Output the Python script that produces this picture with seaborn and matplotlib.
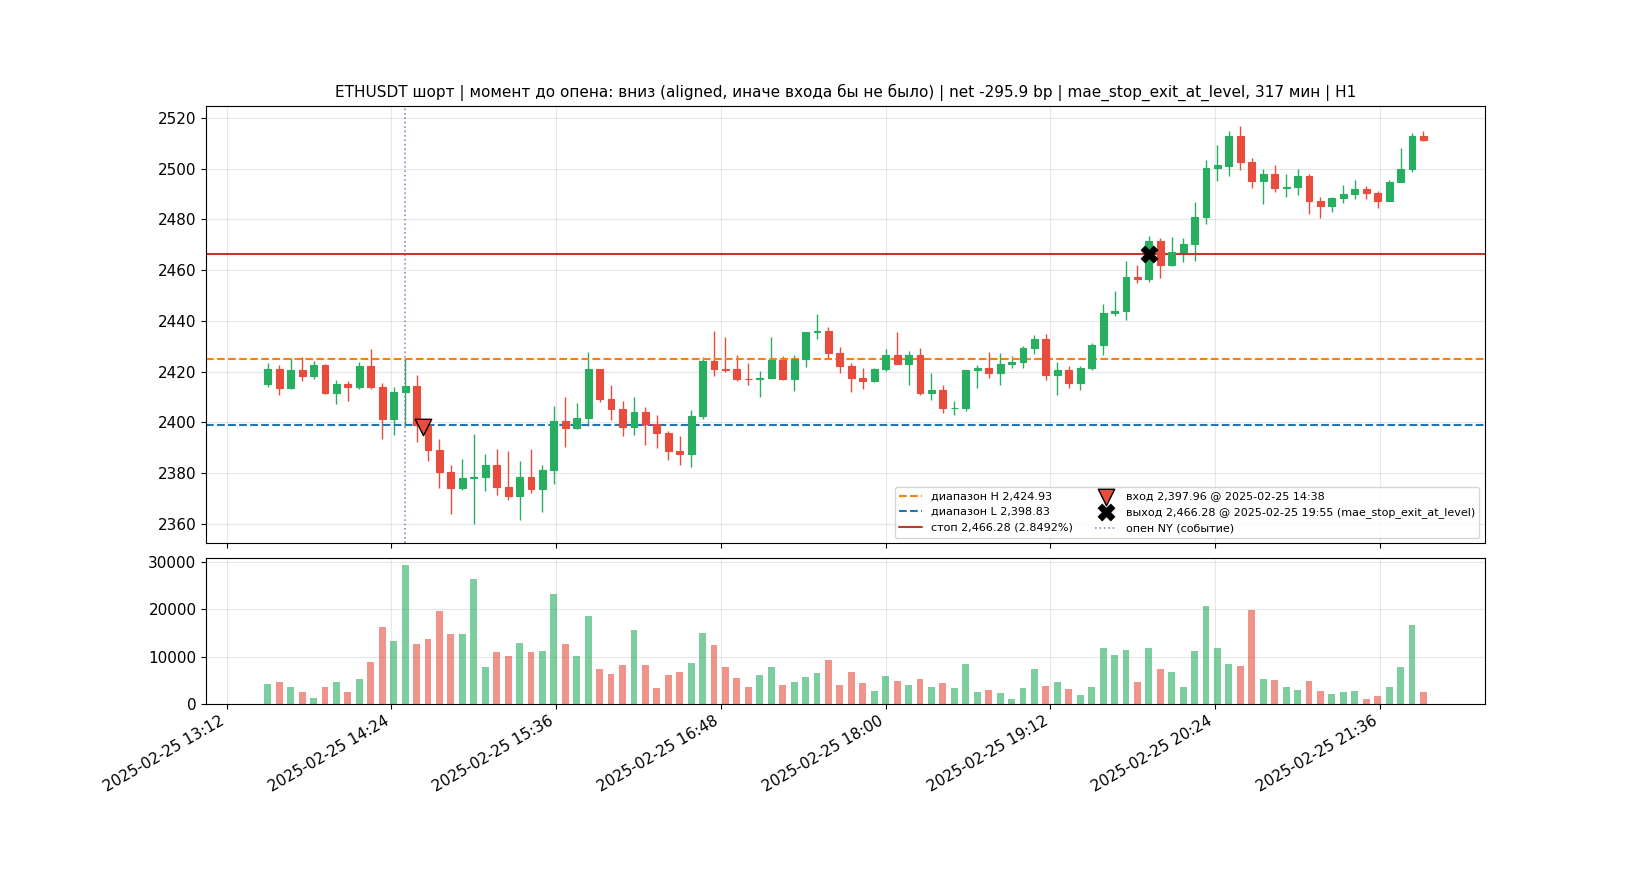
import numpy as np
import pandas as pd
import matplotlib
matplotlib.use("Agg")
import matplotlib.pyplot as plt
import matplotlib.dates as mdates
import seaborn as sns

# ----- DATA ---------------|
SYMBOL = "ETHUSDT"
TITLE = ("ETHUSDT шорт | момент до опена: вниз (aligned, иначе входа бы не было) | "
         "net -295.9 bp | mae_stop_exit_at_level, 317 мин | H1")

# 5m candles, 13:30 .. 21:55
times = pd.date_range("2025-02-25 13:30", periods=102, freq="5min")

opens = [2415.14, 2421.05, 2413.43, 2420.66, 2418.16, 2422.63, 2411.46, 2415.14, 2413.83, 2422.23,
         2413.96, 2401.34, 2411.99, 2414.35, 2399.11, 2389.12, 2380.45, 2374.14, 2378.20, 2378.48,
         2383.21, 2374.54, 2370.99, 2378.48, 2373.75, 2381.24, 2400.55, 2397.79, 2401.73, 2421.05,
         2409.22, 2405.28, 2398.19, 2404.10, 2399.37, 2395.82, 2388.73, 2387.54, 2402.52, 2424.20,
         2421.05, 2421.05, 2417.11, 2417.11, 2417.37, 2424.73, 2417.11, 2424.99, 2435.63, 2436.03,
         2427.35, 2422.23, 2417.50, 2416.32, 2421.05, 2426.57, 2423.02, 2426.71, 2411.59, 2412.78,
         2405.68, 2405.68, 2420.66, 2421.45, 2419.35, 2423.03, 2423.81, 2429.33, 2432.88, 2418.69,
         2420.66, 2415.54, 2421.44, 2430.64, 2443.12, 2443.78, 2457.31, 2456.52, 2471.37, 2462.04,
         2467.17, 2470.32, 2480.96, 2500.28, 2500.93, 2513.02, 2502.64, 2495.15, 2497.91, 2492.52,
         2492.79, 2497.12, 2487.27, 2485.17, 2488.45, 2490.03, 2492.00, 2490.42, 2487.27, 2494.76,
         2499.88, 2512.89]
highs = [2423.55, 2422.63, 2425.39, 2425.78, 2424.07, 2422.90, 2416.85, 2416.45, 2423.94, 2429.07,
         2415.53, 2413.96, 2425.39, 2418.82, 2399.60, 2393.59, 2383.08, 2385.71, 2395.56, 2387.67,
         2389.65, 2388.86, 2384.92, 2389.65, 2383.34, 2406.59, 2410.14, 2407.78, 2427.88, 2421.10,
         2414.87, 2408.57, 2410.14, 2405.94, 2403.05, 2396.48, 2394.77, 2405.02, 2425.78, 2436.16,
         2433.66, 2426.57, 2423.54, 2420.39, 2433.79, 2426.17, 2426.57, 2435.70, 2442.86, 2437.73,
         2429.72, 2423.54, 2421.57, 2421.57, 2429.06, 2435.76, 2428.27, 2429.33, 2419.61, 2414.88,
         2408.57, 2420.66, 2422.76, 2427.89, 2427.49, 2426.18, 2430.25, 2434.59, 2434.98, 2423.95,
         2422.37, 2422.37, 2431.30, 2446.80, 2451.93, 2463.75, 2462.18, 2473.61, 2472.68, 2473.21,
         2472.82, 2487.01, 2503.56, 2509.08, 2514.60, 2516.96, 2503.96, 2499.88, 2501.20, 2498.04,
         2499.88, 2498.04, 2488.85, 2488.85, 2493.58, 2495.68, 2493.31, 2491.08, 2495.55, 2508.16,
         2513.81, 2514.99]
lows = [2413.82, 2410.67, 2413.17, 2416.19, 2416.98, 2411.30, 2407.12, 2408.57, 2413.04, 2413.30,
        2393.59, 2395.17, 2398.72, 2392.15, 2384.66, 2374.01, 2363.90, 2373.49, 2360.10, 2372.83,
        2371.52, 2369.54, 2361.50, 2372.04, 2364.55, 2375.59, 2390.17, 2397.27, 2398.45, 2407.91,
        2401.08, 2394.51, 2395.17, 2390.96, 2390.04, 2385.05, 2383.08, 2382.29, 2401.34, 2418.16,
        2419.73, 2416.19, 2414.61, 2409.88, 2417.30, 2416.58, 2412.25, 2421.70, 2432.74, 2425.12,
        2419.34, 2411.85, 2413.03, 2416.06, 2420.13, 2422.90, 2414.61, 2410.68, 2408.71, 2403.71,
        2402.79, 2404.37, 2413.44, 2417.38, 2414.62, 2421.32, 2421.32, 2426.84, 2416.85, 2410.68,
        2413.44, 2412.65, 2420.79, 2426.70, 2441.81, 2440.23, 2454.95, 2455.21, 2456.79, 2461.52,
        2463.09, 2463.49, 2478.07, 2495.02, 2496.99, 2499.36, 2492.26, 2485.96, 2490.95, 2488.71,
        2489.50, 2482.01, 2480.44, 2482.80, 2486.35, 2487.93, 2488.06, 2484.38, 2487.20, 2494.70,
        2498.57, 2510.66]
closes = [2421.05, 2413.56, 2420.66, 2418.16, 2422.63, 2411.46, 2415.14, 2413.96, 2422.36, 2413.83,
          2401.34, 2412.12, 2414.35, 2399.11, 2388.99, 2380.45, 2374.14, 2378.09, 2378.35, 2383.21,
          2374.54, 2370.99, 2378.48, 2373.75, 2381.24, 2400.55, 2397.79, 2401.73, 2421.05, 2409.22,
          2405.28, 2398.19, 2404.10, 2399.37, 2395.69, 2388.60, 2387.54, 2402.52, 2424.20, 2421.05,
          2420.79, 2417.11, 2416.95, 2417.50, 2424.59, 2417.11, 2424.99, 2435.63, 2436.03, 2427.35,
          2422.23, 2417.37, 2416.32, 2421.05, 2426.57, 2423.02, 2426.57, 2411.59, 2412.78, 2405.68,
          2405.82, 2420.66, 2421.45, 2419.35, 2423.03, 2423.81, 2429.33, 2432.88, 2418.69, 2420.66,
          2415.54, 2421.45, 2430.64, 2443.12, 2444.04, 2457.31, 2456.52, 2471.37, 2462.04, 2467.17,
          2470.32, 2480.96, 2500.28, 2501.20, 2513.02, 2502.64, 2495.15, 2497.91, 2492.26, 2492.92,
          2497.12, 2487.27, 2485.17, 2488.45, 2490.03, 2492.00, 2490.42, 2487.27, 2494.76, 2499.88,
          2513.02, 2511.18]
volumes = [4170, 4593, 3534, 2473, 1201, 3534, 4593, 2473, 5230, 8834,
           16254, 13286, 29399, 12650, 13710, 19646, 14770, 14770, 26431, 7774,
           10954, 10106, 12862, 10954, 11166, 23250, 12650, 10106, 18586, 7350,
           6290, 8198, 15618, 8198, 3321, 6078, 6714, 8622, 14982, 12438,
           7774, 5442, 3534, 6078, 7774, 3958, 4593, 5654, 6502, 9258,
           3958, 6714, 4382, 2685, 5866, 4806, 3958, 5230, 3534, 4382,
           3321, 8410, 2473, 2897, 2261, 989, 3321, 7350, 3745, 4593,
           3109, 1837, 3534, 11802, 10318, 11378, 4593, 11802, 7350, 6714,
           3534, 11166, 20706, 11802, 8410, 7986, 19858, 5230, 5018, 3534,
           2897, 4806, 2685, 2049, 2473, 2685, 989, 1625, 3534, 7774,
           16678, 2473]

range_high = 2424.93
range_low = 2398.83
stop_price = 2466.28
stop_pct = 2.8492
entry_time = pd.Timestamp("2025-02-25 14:38")
entry_price = 2397.96
exit_time = pd.Timestamp("2025-02-25 19:55")
exit_price = 2466.28
exit_reason = "mae_stop_exit_at_level"
ny_open = pd.Timestamp("2025-02-25 14:30")
# ------- END OF DATA ----------------------|

UP = "#27ae60"
DOWN = "#e74c3c"
BAR_W = 3 / 1440  # 3 minutes in days

sns.set_style("ticks", rc={"axes.edgecolor": "black", "text.color": "black",
                           "xtick.color": "black", "ytick.color": "black",
                           "axes.labelcolor": "black"})
plt.rcParams["font.family"] = ["DejaVu Sans"]

df = pd.DataFrame({"open": opens, "high": highs, "low": lows, "close": closes,
                   "volume": volumes}, index=times)
x = mdates.date2num(df.index.to_pydatetime())
up = df["close"] >= df["open"]
colors = np.where(up, UP, DOWN)
body_lo = np.minimum(df["open"], df["close"])
body_h = (df["close"] - df["open"]).abs()

fig, (ax, axv) = plt.subplots(2, 1, figsize=(16.5, 8.8), dpi=100, sharex=True,
                              gridspec_kw={"height_ratios": [3, 1], "hspace": 0.05})
fig.subplots_adjust(left=0.125, right=0.9, top=0.88, bottom=0.2)

# candles
ax.vlines(x, df["low"], df["high"], colors=colors, linewidth=1.0, zorder=2)
ax.bar(x, body_h, width=BAR_W, bottom=body_lo, color=colors, edgecolor=colors,
       linewidth=0.8, zorder=3)

ax.axhline(range_high, color="tab:orange", ls="--", lw=1.5,
           label=f"диапазон H {range_high:,.2f}")
ax.axhline(range_low, color="tab:blue", ls="--", lw=1.5,
           label=f"диапазон L {range_low:,.2f}")
ax.axhline(stop_price, color="#c0392b", ls="-", lw=1.5,
           label=f"стоп {stop_price:,.2f} ({stop_pct:.4f}%)")

sns.scatterplot(x=[mdates.date2num(entry_time)], y=[entry_price], marker="v", s=140,
                color=DOWN, edgecolor="black", linewidth=1, zorder=6, ax=ax,
                label=f"вход {entry_price:,.2f} @ {entry_time:%Y-%m-%d %H:%M}")
sns.scatterplot(x=[mdates.date2num(exit_time)], y=[exit_price], marker="X", s=150,
                color="black", edgecolor="black", linewidth=0.5, zorder=6, ax=ax,
                label=f"выход {exit_price:,.2f} @ {exit_time:%Y-%m-%d %H:%M} ({exit_reason})")
ax.axvline(mdates.date2num(ny_open), color="tab:purple", ls=":", lw=1.2, alpha=0.85,
           label="опен NY (событие)")

handles, labels = ax.get_legend_handles_labels()
ax.legend(handles, labels, loc="lower right", ncol=2, fontsize=8, frameon=True)
ax.set_title(TITLE, fontsize=11)
ax.grid(True, color="#b0b0b0", alpha=0.3)
ax.tick_params(labelsize=11)

# volume
axv.bar(x, df["volume"], width=BAR_W, color=colors, alpha=0.6, edgecolor="none")
axv.grid(True, color="#b0b0b0", alpha=0.3)
axv.tick_params(labelsize=11)

axv.xaxis.set_major_formatter(mdates.DateFormatter("%Y-%m-%d %H:%M"))
fig.autofmt_xdate()

fig.savefig("out.png", dpi=100)
